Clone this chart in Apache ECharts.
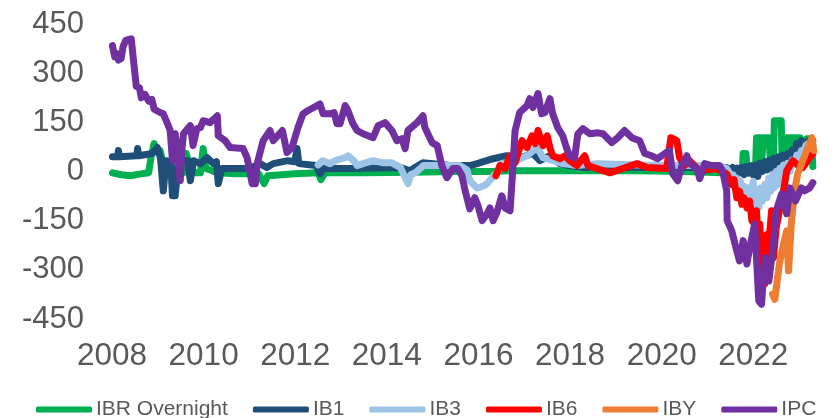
<!DOCTYPE html>
<html>
<head>
<meta charset="utf-8">
<script src="https://cdn.jsdelivr.net/npm/echarts@6/dist/echarts.min.js"></script>
<style>
  html, body { margin: 0; padding: 0; background: #fff; }
  #chart { width: 836px; height: 418px; }
</style>
</head>
<body>
<div id="chart"></div>
<script>
  // series names and colours
  var seriesNames = ['IBR Overnight', 'IB1', 'IB3', 'IB6', 'IBY', 'IPC']
  var seriesColors = ['#00B050', '#1F4E79', '#9DC3E6', '#FF0000', '#ED7D31', '#7030A0']
  var yTicks = [-450, -300, -150, 0, 150, 300, 450]

  // [decimal year, value]
  var ibrOvernight = [[2008.01,-4],[2008.2,-10],[2008.4,-13],[2008.6,-8],[2008.8,-4],[2008.85,42],[2008.92,85],[2008.97,60],[2009.05,64],[2009.15,2],[2009.35,-7],[2009.55,-4],[2009.62,55],[2009.68,24],[2009.8,-4],[2009.93,-4],[2009.99,70],[2010.05,9],[2010.3,-4],[2010.7,-7],[2011.2,-7],[2011.32,-37],[2011.4,-13],[2012.0,-7],[2012.5,-4],[2012.56,-25],[2012.65,-4],[2013.5,-4],[2014.5,-2],[2015.5,0],[2016.4,0],[2016.6,2],[2018.5,2],[2019.5,2],[2020.5,0],[2021.3,-4],[2021.5,0],[2021.76,5],[2021.78,55],[2021.84,55],[2021.86,10],[2022.05,15],[2022.07,103],[2022.15,103],[2022.17,20],[2022.21,25],[2022.23,103],[2022.35,103],[2022.37,30],[2022.44,30],[2022.46,155],[2022.61,155],[2022.63,35],[2022.71,40],[2022.73,103],[2022.85,103],[2022.87,45],[2022.9,50],[2022.92,103],[2023.02,103],[2023.04,55],[2023.15,60],[2023.17,100],[2023.27,100],[2023.3,15]]
  var ib1 = [[2008.01,45],[2008.12,45],[2008.14,64],[2008.16,45],[2008.54,48],[2008.56,70],[2008.58,48],[2008.88,55],[2008.99,73],[2009.06,40],[2009.12,-59],[2009.18,33],[2009.28,30],[2009.32,-74],[2009.38,-74],[2009.45,33],[2009.65,33],[2009.71,-28],[2009.78,33],[2009.93,24],[2010.08,42],[2010.21,24],[2010.28,30],[2010.32,-37],[2010.4,9],[2011.0,9],[2011.23,24],[2011.38,12],[2011.52,24],[2011.84,33],[2011.99,30],[2012.04,70],[2012.08,24],[2012.45,18],[2012.54,-7],[2012.62,9],[2013.2,9],[2014.3,12],[2014.5,2],[2014.79,27],[2015.38,18],[2015.81,18],[2015.97,24],[2016.32,39],[2016.62,48],[2016.9,42],[2017.19,55],[2017.34,33],[2017.56,48],[2017.78,24],[2017.99,18],[2018.3,12],[2019.5,12],[2020.5,12],[2021.26,12],[2021.42,12],[2021.5,5],[2021.55,12],[2021.6,0],[2021.65,10],[2021.7,-5],[2021.75,12],[2021.8,-10],[2021.85,15],[2021.9,-5],[2021.95,18],[2022.0,-10],[2022.05,20],[2022.1,-15],[2022.15,25],[2022.2,0],[2022.25,30],[2022.3,5],[2022.35,35],[2022.4,10],[2022.45,40],[2022.5,15],[2022.55,45],[2022.6,25],[2022.65,50],[2022.7,30],[2022.75,55],[2022.8,40],[2022.85,65],[2022.9,50],[2022.95,85],[2023.0,70],[2023.05,94],[2023.12,85],[2023.2,94],[2023.3,94]]
  var ib3 = [[2012.5,20],[2012.6,33],[2012.76,24],[2012.9,35],[2013.09,42],[2013.15,48],[2013.3,30],[2013.35,18],[2013.5,25],[2013.7,33],[2013.9,27],[2014.1,27],[2014.3,12],[2014.36,-7],[2014.46,-37],[2014.52,-10],[2014.62,-4],[2014.8,18],[2015.6,18],[2015.75,5],[2015.81,-28],[2015.97,-50],[2016.1,-45],[2016.19,-37],[2016.35,-10],[2016.4,-7],[2016.5,24],[2016.8,33],[2017.06,48],[2017.28,73],[2017.41,42],[2017.6,35],[2017.84,24],[2018.15,18],[2018.6,24],[2019.5,20],[2020.3,18],[2021.26,18],[2021.42,9],[2021.48,-5],[2021.52,-25],[2021.56,-10],[2021.6,-40],[2021.64,-20],[2021.68,-55],[2021.72,-30],[2021.76,-80],[2021.8,-45],[2021.85,-90],[2021.9,-50],[2021.95,-60],[2022.0,-30],[2022.04,-141],[2022.08,-70],[2022.12,-111],[2022.16,-50],[2022.2,-90],[2022.25,-40],[2022.3,-80],[2022.34,-20],[2022.38,-60],[2022.42,-10],[2022.46,-50],[2022.5,0],[2022.54,-40],[2022.58,10],[2022.62,-20],[2022.66,20],[2022.7,-10],[2022.75,25],[2022.8,0],[2022.85,35],[2022.9,20],[2022.95,50],[2023.0,40],[2023.05,64],[2023.1,55],[2023.15,80],[2023.2,85],[2023.3,79]]
  var ib6 = [[2016.38,-13],[2016.47,18],[2016.58,9],[2016.69,48],[2016.8,27],[2016.95,94],[2017.06,73],[2017.17,109],[2017.24,85],[2017.3,125],[2017.41,79],[2017.5,109],[2017.56,73],[2017.62,48],[2017.78,39],[2017.89,48],[2017.99,33],[2018.15,18],[2018.32,48],[2018.39,18],[2018.58,9],[2018.87,-4],[2019.15,9],[2019.46,24],[2019.68,12],[2020.11,9],[2020.2,103],[2020.33,94],[2020.39,42],[2020.5,18],[2020.61,33],[2020.83,2],[2021.2,9],[2021.42,-7],[2021.53,-40],[2021.58,-25],[2021.64,-80],[2021.7,-60],[2021.75,-100],[2021.8,-80],[2021.86,-111],[2021.92,-90],[2021.97,-150],[2022.03,-160],[2022.07,-120],[2022.1,-200],[2022.14,-160],[2022.18,-260],[2022.25,-343],[2022.3,-192],[2022.35,-200],[2022.4,-120],[2022.44,-263],[2022.5,-172],[2022.57,-120],[2022.65,-68],[2022.73,2],[2022.86,33],[2022.97,20],[2023.08,12],[2023.23,42],[2023.3,55]]
  var iby = [[2022.42,-374],[2022.47,-390],[2022.53,-324],[2022.57,-282],[2022.64,-233],[2022.73,-181],[2022.77,-303],[2022.83,-160],[2022.9,-59],[2022.97,-7],[2023.08,33],[2023.19,73],[2023.28,103],[2023.32,64]]
  var ipc = [[2008.01,384],[2008.04,380],[2008.06,350],[2008.1,360],[2008.14,340],[2008.2,345],[2008.24,380],[2008.3,400],[2008.42,405],[2008.47,338],[2008.53,260],[2008.6,255],[2008.64,225],[2008.72,235],[2008.8,215],[2008.87,220],[2008.92,190],[2009.05,180],[2009.12,176],[2009.2,150],[2009.27,125],[2009.32,33],[2009.38,115],[2009.49,-28],[2009.53,73],[2009.56,115],[2009.71,140],[2009.77,79],[2009.85,130],[2009.93,134],[2009.99,155],[2010.14,149],[2010.3,170],[2010.32,109],[2010.47,94],[2010.58,73],[2010.86,70],[2010.95,42],[2011.06,-37],[2011.13,-37],[2011.17,24],[2011.3,94],[2011.45,125],[2011.52,94],[2011.72,125],[2011.82,58],[2011.93,73],[2012.06,134],[2012.17,176],[2012.28,186],[2012.48,201],[2012.54,206],[2012.61,176],[2012.76,176],[2012.85,180],[2012.91,146],[2012.98,146],[2013.09,201],[2013.15,186],[2013.26,146],[2013.35,125],[2013.48,115],[2013.7,103],[2013.81,140],[2013.96,149],[2014.11,125],[2014.22,94],[2014.33,100],[2014.4,70],[2014.46,125],[2014.66,149],[2014.79,170],[2014.83,134],[2014.99,88],[2015.1,79],[2015.2,18],[2015.31,-19],[2015.44,9],[2015.55,9],[2015.64,-13],[2015.7,-53],[2015.81,-114],[2015.92,-80],[2015.99,-104],[2016.08,-150],[2016.19,-129],[2016.25,-111],[2016.32,-150],[2016.4,-126],[2016.51,-74],[2016.58,-111],[2016.69,-120],[2016.73,-37],[2016.8,125],[2016.9,180],[2017.06,201],[2017.12,222],[2017.19,195],[2017.3,238],[2017.38,176],[2017.45,180],[2017.56,222],[2017.62,176],[2017.73,134],[2017.84,109],[2017.92,73],[2017.99,48],[2018.1,42],[2018.17,115],[2018.28,131],[2018.43,115],[2018.61,118],[2018.72,115],[2018.91,88],[2019.04,103],[2019.19,125],[2019.35,103],[2019.52,94],[2019.63,55],[2019.78,48],[2019.91,39],[2020.07,55],[2020.17,64],[2020.24,-7],[2020.35,-28],[2020.44,18],[2020.55,48],[2020.61,24],[2020.68,18],[2020.77,9],[2020.83,-22],[2020.94,24],[2021.09,18],[2021.26,18],[2021.33,2],[2021.42,-59],[2021.43,-150],[2021.53,-181],[2021.6,-221],[2021.7,-273],[2021.78,-211],[2021.86,-282],[2021.92,-233],[2022.03,-160],[2022.12,-395],[2022.18,-405],[2022.25,-263],[2022.34,-334],[2022.44,-221],[2022.5,-120],[2022.62,-68],[2022.73,-129],[2022.8,-50],[2022.92,-90],[2023.05,-50],[2023.12,-59],[2023.23,-50],[2023.3,-34]]

  var seriesData = [ibrOvernight, ib1, ib3, ib6, iby, ipc]

  var chart = echarts.init(document.getElementById('chart'))
  var option = {
    animation: false,
    backgroundColor: '#ffffff',
    textStyle: { fontFamily: 'Liberation Sans, Arial, sans-serif' },
    grid: { left: 112, right: 14, top: 24, bottom: 99, containLabel: false },
    legend: {
      data: seriesNames.map(function (n) { return { name: n, icon: 'roundRect' } }),
      left: 31,
      top: 394,
      itemWidth: 56,
      itemHeight: 6,
      itemGap: 25,
      textStyle: { fontSize: 21, color: '#595959', padding: [0, 0, 0, -1] }
    },
    xAxis: {
      type: 'value',
      min: 2008,
      max: 2023.5,
      interval: 2,
      axisLine: { show: false },
      axisTick: { show: false },
      splitLine: { show: false },
      axisLabel: {
        fontSize: 31.5,
        color: '#595959',
        margin: 21,
        formatter: function (v) { return v % 2 === 0 ? String(v) : '' }
      }
    },
    yAxis: {
      type: 'value',
      min: yTicks[0],
      max: yTicks[yTicks.length - 1],
      interval: 150,
      axisLine: { show: false },
      axisTick: { show: false },
      splitLine: { show: false },
      axisLabel: { fontSize: 31, color: '#595959', margin: 28, padding: [3, 0, 0, 0] }
    },
    series: seriesNames.map(function (name, i) {
      return {
        name: name,
        type: 'line',
        data: seriesData[i],
        showSymbol: false,
        color: seriesColors[i],
        lineStyle: { width: 7, color: seriesColors[i], cap: 'round', join: 'round' }
      }
    })
  }
  chart.setOption(option)
</script>
</body>
</html>
